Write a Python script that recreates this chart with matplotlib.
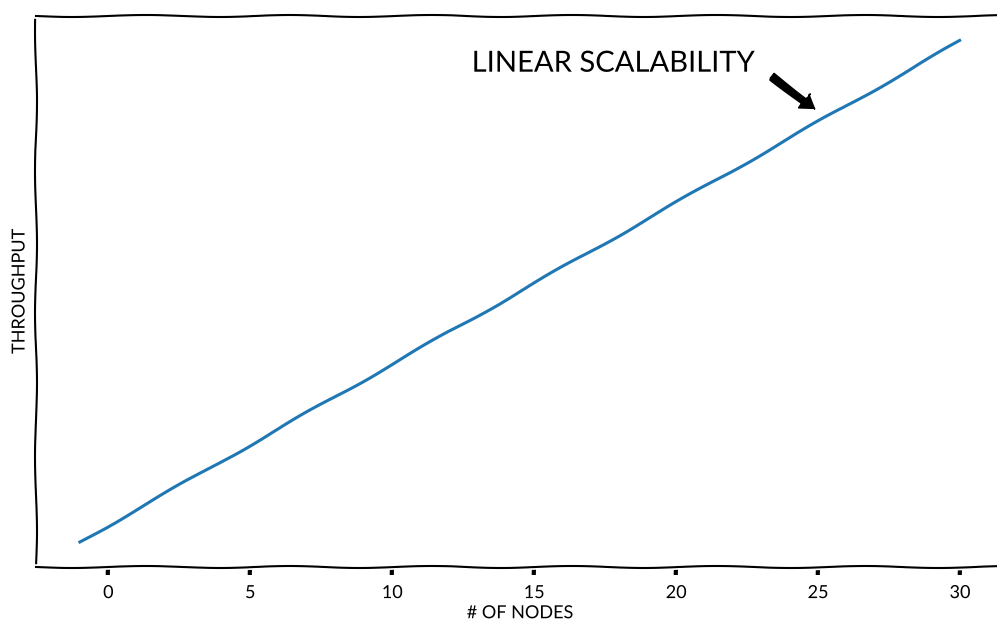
import matplotlib
matplotlib.use("Agg")
import matplotlib.pyplot as plt
import numpy as np

nodes = list(range(-1, 31))
throughput = list(range(-1, 31))
x_ticks = [0, 5, 10, 15, 20, 25, 30]
label_text = "LINEAR SCALABILITY"
arrow_tip = (24.9, 25.8)
arrow_tail = (23.4, 27.8)
text_pos = (12.8, 28.6)

with plt.xkcd(scale=1, length=150, randomness=1.5):
    plt.rcParams['font.family'] = ['Lato', 'DejaVu Sans']
    plt.rcParams['font.size'] = 14
    fig = plt.figure(figsize=(9.97, 6.24), dpi=100)
    ax = fig.add_axes([0.036, 0.0913, 0.971, 0.883])
    ax.plot(nodes, throughput, color='#1f77b4', lw=2.2)
    ax.spines['right'].set_visible(False)
    ax.set_yticks([])
    ax.set_xticks(x_ticks)
    ax.set_xlim(-2.55, 31.55)
    ax.set_ylim(-2.55, 31.55)
    ax.tick_params(axis='x', labelsize=13, pad=7, width=3, length=6)
    ax.set_xlabel("# OF NODES", fontsize=13, labelpad=3)
    ax.set_ylabel("THROUGHPUT", fontsize=13, labelpad=6)
    ax.text(text_pos[0], text_pos[1], label_text, fontsize=21, ha='left', va='center')
    ax.annotate('', xy=arrow_tip, xytext=arrow_tail,
                arrowprops=dict(facecolor='black', edgecolor='black', width=5,
                                headwidth=13, headlength=10, shrink=0))
    fig.savefig("out.png", dpi=100)
